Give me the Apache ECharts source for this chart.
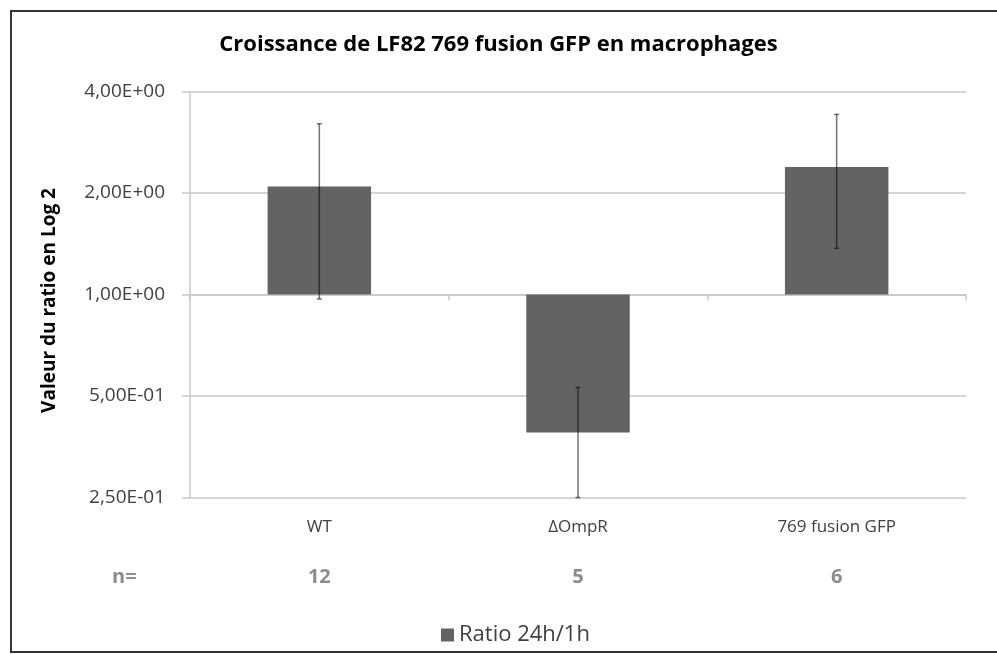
<!DOCTYPE html>
<html>
<head>
<meta charset="utf-8">
<script src="https://cdn.jsdelivr.net/npm/echarts@6/dist/echarts.min.js"></script>
<style>
  html, body { margin: 0; padding: 0; background: #ffffff; }
  #chart { width: 997px; height: 654px; }
</style>
</head>
<body>
<div id="chart"></div>
<script>
// Strains tested, growth ratio (24h / 1h) and error bar bounds
const categories = ['WT', '\u0394OmpR', '769 fusion GFP'];
const sampleCounts = ['12', '5', '6'];
const ratioValues = [2.09, 0.39, 2.39];
const errorLow = [0.97, 0.25, 1.37];
const errorHigh = [3.21, 0.53, 3.42];
const yTickLabels = ['2,50E-01', '5,00E-01', '1,00E+00', '2,00E+00', '4,00E+00'];
const seriesName = 'Ratio 24h/1h';
const titleText = 'Croissance de LF82 769 fusion GFP en macrophages';
const yAxisTitle = 'Valeur du ratio en Log 2';

const FONT = '"Open Sans", "Noto Sans", sans-serif';
const GRID_COLOR = '#c8c8c8';

const chart = echarts.init(document.getElementById('chart'), null, { renderer: 'canvas' });

const errorData = categories.map((c, i) => [i, errorLow[i], errorHigh[i]]);

const option = {
  backgroundColor: '#ffffff',
  animation: false,
  title: {
    text: titleText,
    left: 'center',
    top: 29,
    textStyle: { fontFamily: FONT, fontSize: 22, fontWeight: 'bold', color: '#000000' }
  },
  legend: {
    data: [seriesName],
    left: 436,
    top: 619,
    icon: 'rect',
    itemWidth: 13,
    itemHeight: 13,
    itemGap: 10,
    textStyle: { fontFamily: FONT, fontSize: 22, color: '#404040' }
  },
  grid: { left: 190, right: 31, top: 91.5, bottom: 156.5, containLabel: false },
  xAxis: [
    {
      type: 'category',
      data: categories,
      position: 'bottom',
      axisLine: { show: false },
      axisTick: { show: false },
      axisLabel: { margin: 21, fontFamily: FONT, fontSize: 17, color: '#404040' }
    },
    {
      type: 'category',
      data: sampleCounts,
      position: 'bottom',
      axisLine: { show: false },
      axisTick: { show: false },
      axisLabel: { margin: 70, fontFamily: FONT, fontSize: 20, fontWeight: 'bold', color: '#8c8c8c' }
    },
    {
      // axis drawn along the ratio = 1 line, with its separating ticks
      type: 'category',
      data: categories,
      position: 'bottom',
      offset: -203,
      axisLine: { show: true, lineStyle: { color: GRID_COLOR, width: 1.5 } },
      axisTick: { show: true, length: 6, lineStyle: { color: GRID_COLOR, width: 1.5 } },
      axisLabel: { show: false }
    }
  ],
  yAxis: {
    type: 'log',
    logBase: 2,
    min: 0.25,
    max: 4,
    name: yAxisTitle,
    nameLocation: 'middle',
    nameRotate: 90,
    nameGap: 131,
    nameTextStyle: {
      fontFamily: FONT, fontSize: 19, fontWeight: 'bold', color: '#000000',
      padding: [0, 12, 0, 0]
    },
    axisLine: { show: true, lineStyle: { color: GRID_COLOR, width: 1.5 } },
    axisTick: { show: true, length: 8, lineStyle: { color: GRID_COLOR, width: 1.5 } },
    splitLine: { show: true, lineStyle: { color: GRID_COLOR, width: 1.5 } },
    axisLabel: {
      margin: 25,
      fontFamily: FONT,
      fontSize: 19,
      color: '#404040',
      formatter: (v, idx) => yTickLabels[idx]
    }
  },
  series: [
    {
      name: seriesName,
      type: 'bar',
      xAxisIndex: 0,
      data: ratioValues,
      barWidth: '40%',
      itemStyle: { color: '#636363' }
    },
    {
      name: 'error',
      type: 'custom',
      xAxisIndex: 0,
      data: errorData,
      z: 10,
      renderItem: function (params, api) {
        const x = api.value(0);
        const lo = api.coord([x, api.value(1)]);
        const hi = api.coord([x, api.value(2)]);
        const cap = 2.5;
        const style = { stroke: 'rgba(0,0,0,0.55)', lineWidth: 1.5 };
        return {
          type: 'group',
          children: [
            { type: 'line', shape: { x1: lo[0], y1: lo[1], x2: hi[0], y2: hi[1] }, style: style },
            { type: 'line', shape: { x1: hi[0] - cap, y1: hi[1], x2: hi[0] + cap, y2: hi[1] }, style: style },
            { type: 'line', shape: { x1: lo[0] - cap, y1: lo[1], x2: lo[0] + cap, y2: lo[1] }, style: style }
          ]
        };
      }
    }
  ],
  graphic: [
    {
      type: 'rect',
      shape: { x: 11, y: 11, width: 1000, height: 641 },
      style: { fill: 'none', stroke: '#333333', lineWidth: 2 },
      silent: true
    },
    {
      type: 'text',
      left: 112,
      top: 567,
      style: { text: 'n=', font: 'bold 20px ' + FONT, fill: '#8c8c8c' }
    }
  ]
};

chart.setOption(option);
</script>
</body>
</html>
